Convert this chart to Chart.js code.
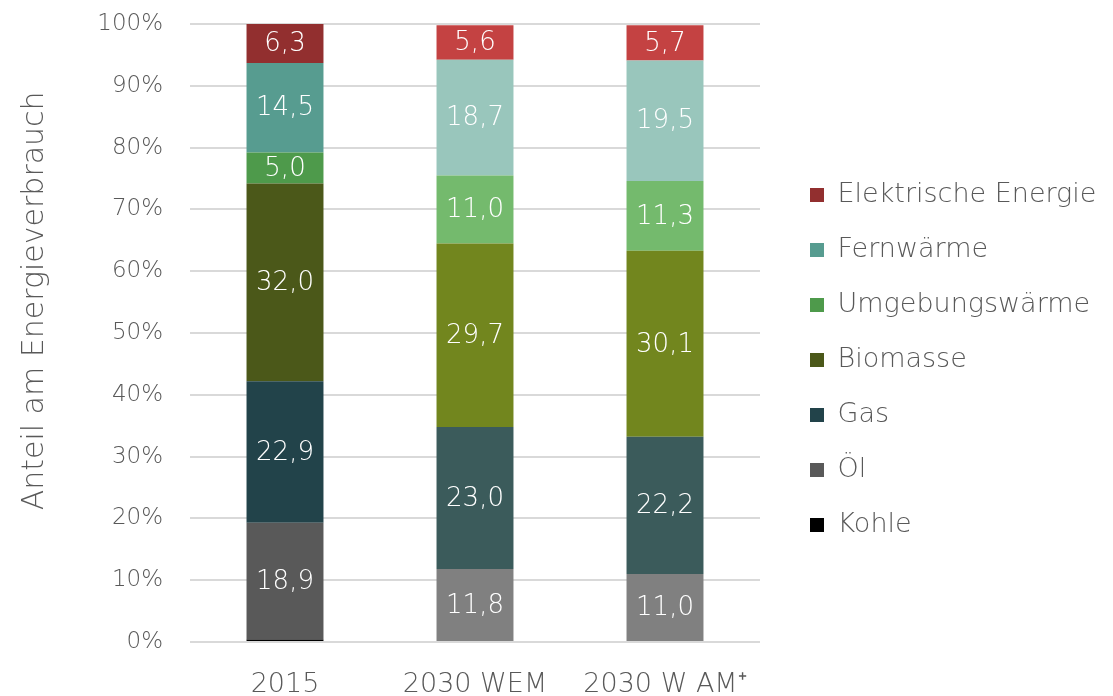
<!DOCTYPE html>
<html>
<head>
<meta charset="utf-8">
<script src="https://cdn.jsdelivr.net/npm/chart.js@4/dist/chart.umd.min.js"></script>
<style>
  html, body { margin: 0; padding: 0; background: #ffffff; }
  #wrap { width: 1113px; height: 696px; }
</style>
</head>
<body>
<div id="wrap"><canvas id="energyChart"></canvas></div>
<script>

var categories = ['2015', '2030 WEM', '2030 W AM\u207A'];

var kohle      = [0.4, 0, 0];
var oel        = [18.9, 11.8, 11.0];
var gas        = [22.9, 23.0, 22.2];
var biomasse   = [32.0, 29.7, 30.1];
var umgebung   = [5.0, 11.0, 11.3];
var fernwaerme = [14.5, 18.7, 19.5];
var elektrisch = [6.3, 5.6, 5.7];

var yTickStep = 10;
var yMax = 100;
var yTitle = 'Anteil am Energieverbrauch';

var fontFamily = '"DejaVu Sans", sans-serif';
var fontWeight = 200;
var textGrey = '#595959';

// 2015 bars are darker, the scenario bars lighter
function seriesColors(dark, light) {
    return [dark, light, light];
}

function makeDataset(label, values, dark, light, showLabel) {
    return {
        label: label,
        data: values,
        backgroundColor: seriesColors(dark, light),
        legendColor: dark,
        showValue: showLabel,
        borderWidth: 0,
        categoryPercentage: 1.0,
        barPercentage: 0.405
    };
}

var valueLabels = {
    id: 'valueLabels',
    afterDatasetsDraw: function (chart) {
        var ctx = chart.ctx;
        ctx.save();
        ctx.fillStyle = '#ffffff';
        ctx.font = fontWeight + ' 26px ' + fontFamily;
        ctx.textAlign = 'center';
        ctx.textBaseline = 'middle';
        chart.data.datasets.forEach(function (ds, i) {
            if (!ds.showValue) return;
            var meta = chart.getDatasetMeta(i);
            meta.data.forEach(function (bar, j) {
                var v = ds.data[j];
                if (!v) return;
                var y = (bar.y + bar.base) / 2;
                ctx.fillText(v.toFixed(1).replace('.', ','), bar.x, y + 1);
            });
        });
        ctx.restore();
    }
};

// axis title sits a bit above the middle of the plot in the original
var axisTitle = {
    id: 'axisTitle',
    afterDraw: function (chart) {
        var ctx = chart.ctx;
        var area = chart.chartArea;
        ctx.save();
        ctx.translate(35, area.top + (area.bottom - area.top) * 0.448);
        ctx.rotate(-Math.PI / 2);
        ctx.fillStyle = textGrey;
        ctx.font = fontWeight + ' 30px ' + fontFamily;
        ctx.textAlign = 'center';
        ctx.textBaseline = 'middle';
        ctx.fillText(yTitle, 0, 0);
        ctx.restore();
    }
};

// fix the legend width so the plot ends where it should, then move the legend right
var legendWidth = 353;
var legendShiftPx = 22;
var legendShift = {
    id: 'legendShift',
    beforeUpdate: function (chart) {
        var legend = chart.legend;
        if (!legend || legend._patched) return;
        var fit = legend.fit;
        legend.fit = function () {
            fit.call(this);
            this.width = legendWidth;
        };
        legend._patched = true;
    },
    afterLayout: function (chart) {
        chart.legend.left += legendShiftPx;
    }
};

(function () {
    var ctx = document.getElementById('energyChart');
    new Chart(ctx, {
        type: 'bar',
        data: {
            labels: categories,
            datasets: [
                makeDataset('Kohle', kohle, '#000000', '#1a1a1a', false),
                makeDataset('\u00D6l', oel, '#595959', '#808080', true),
                makeDataset('Gas', gas, '#22434A', '#3B5B5B', true),
                makeDataset('Biomasse', biomasse, '#4B5819', '#72861E', true),
                makeDataset('Umgebungsw\u00E4rme', umgebung, '#4E9A4B', '#74BA6D', true),
                makeDataset('Fernw\u00E4rme', fernwaerme, '#579C90', '#99C6BC', true),
                makeDataset('Elektrische Energie', elektrisch, '#922F2F', '#C44242', true)
            ]
        },
        options: {
            responsive: true,
            maintainAspectRatio: false,
            animation: false,
            layout: {
                padding: { top: 24, left: 0, right: 0, bottom: 0 }
            },
            plugins: {
                tooltip: { enabled: false },
                legend: {
                    position: 'right',
                    reverse: true,
                    labels: {
                        boxWidth: 14,
                        boxHeight: 14,
                        padding: 28,
                        color: textGrey,
                        font: { family: fontFamily, size: 27, weight: fontWeight },
                        generateLabels: function (chart) {
                            return chart.data.datasets.map(function (ds, i) {
                                return {
                                    text: ds.label,
                                    fillStyle: ds.legendColor,
                                    strokeStyle: ds.legendColor,
                                    lineWidth: 0,
                                    fontColor: textGrey,
                                    hidden: false,
                                    datasetIndex: i
                                };
                            });
                        }
                    }
                }
            },
            scales: {
                x: {
                    stacked: true,
                    grid: { display: false },
                    border: { display: false },
                    ticks: {
                        color: textGrey,
                        padding: 19,
                        font: { family: fontFamily, size: 27, weight: fontWeight }
                    },
                    afterFit: function (scale) { scale.height = 54; }
                },
                y: {
                    stacked: true,
                    min: 0,
                    max: yMax,
                    border: { display: false },
                    grid: { color: '#d9d9d9', lineWidth: 2, drawTicks: false },
                    ticks: {
                        stepSize: yTickStep,
                        color: textGrey,
                        padding: 27,
                        font: { family: fontFamily, size: 23, weight: fontWeight },
                        callback: function (v) { return v + '%'; }
                    },
                    afterFit: function (scale) {
                        scale.width = 190;
                        scale.paddingTop = 0;
                        scale.paddingBottom = 0;
                    }
                }
            }
        },
        plugins: [valueLabels, axisTitle, legendShift]
    });
})();

</script>
</body>
</html>
